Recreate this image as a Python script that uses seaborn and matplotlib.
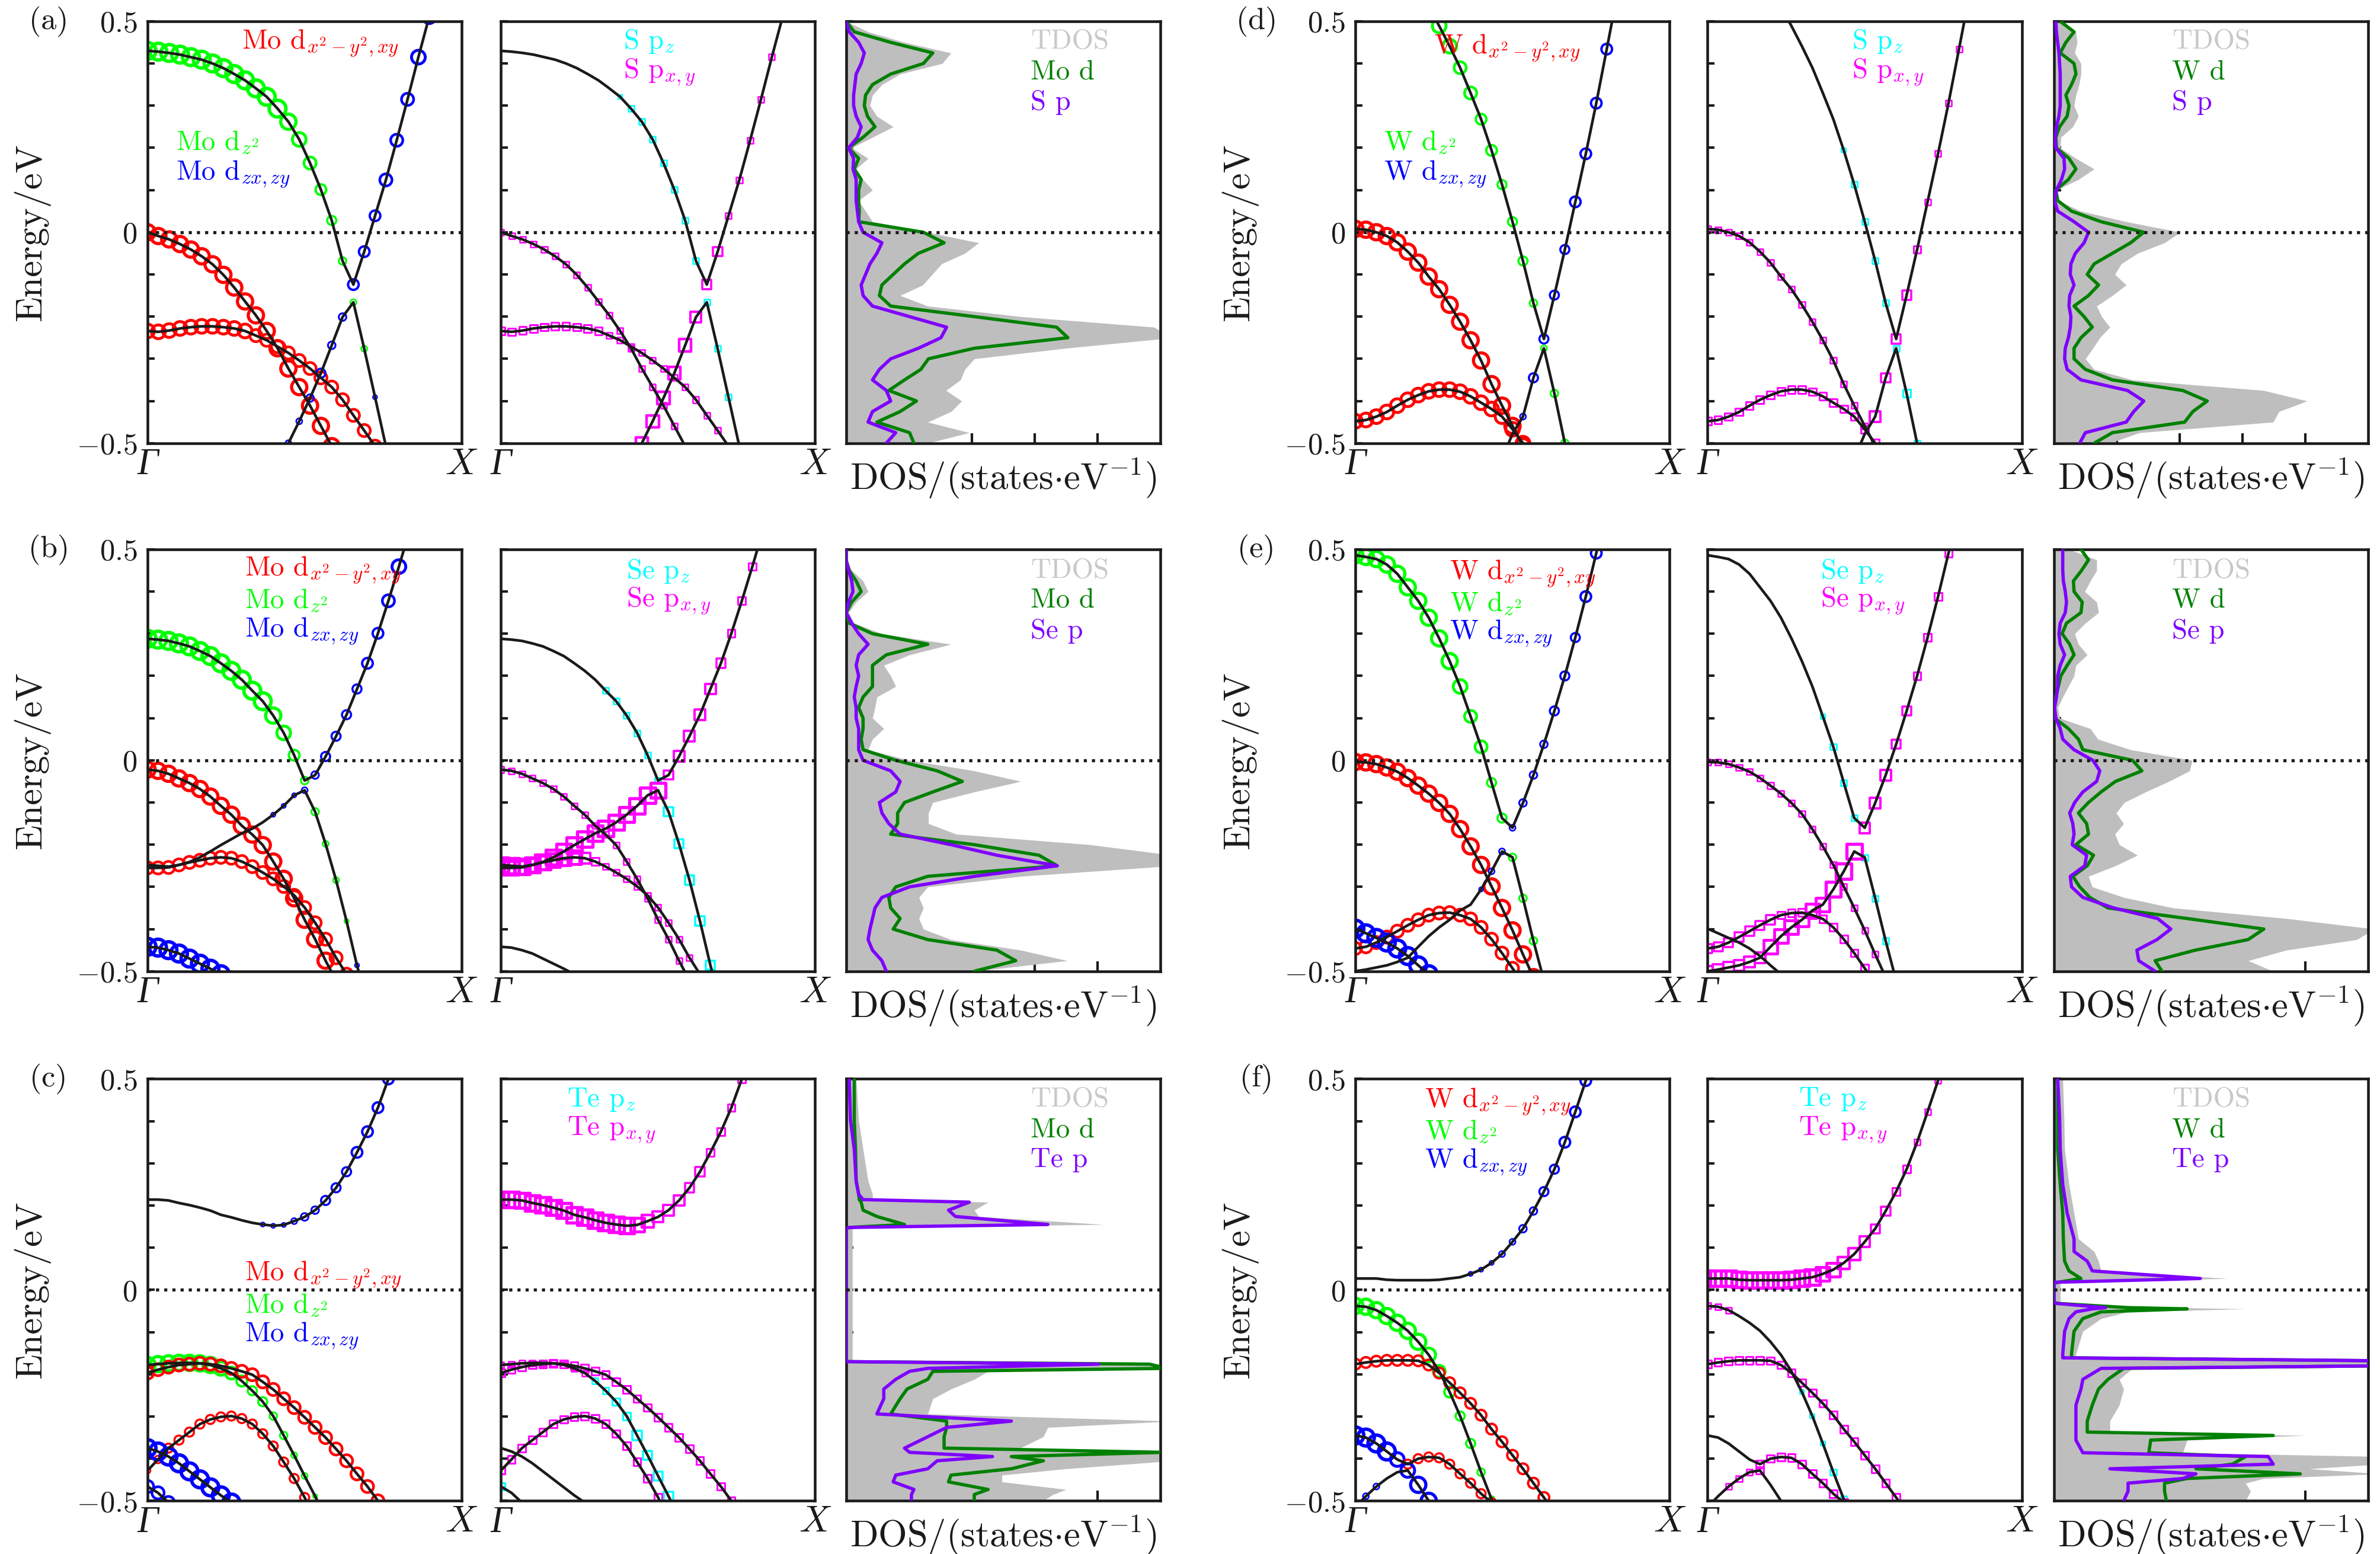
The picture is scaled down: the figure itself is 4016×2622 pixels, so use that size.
import numpy as np
import pandas as pd
import seaborn as sns
import matplotlib.pyplot as plt

nan = np.nan

# number of k steps between Gamma and X for each panel
a_nk, b_nk, c_nk, d_nk, e_nk, f_nk = 29, 30, 30, 30, 30, 30

# band energies (eV) on the k mesh
# marker codes: colour letter + weight digit per k point, '-' none, 'tok*n' repeat

# ---- (a) MoS2 ----
a_cb = [0.430, 0.428, 0.425, 0.421, 0.415, 0.409, 0.400, 0.389, 0.375, 0.360, 0.341, 0.321, 0.293, 0.262,
        0.220, 0.164, 0.101, 0.028, -0.068, -0.124, -0.046, 0.039, 0.124, 0.218, 0.315, 0.415, 0.511]
a_cb_d = "g9*13 g8 g7 g6 g5 g4 g3 b5 b5 b5 b6 b6 b6 b7 b7"
a_cb_p = "-*11 c1 c2*7 m4 m4 m2*6"
a_vb1 = [0.0, -0.009, -0.017, -0.028, -0.041, -0.057, -0.076, -0.101, -0.131, -0.164, -0.197, -0.234,
         -0.275, -0.323, -0.367, -0.411, -0.459, -0.507, -0.56]
a_vb1_d = "r8*19"
a_vb1_p = "m2*19"
a_vb2 = [-0.234, -0.236, -0.233, -0.228, -0.225, -0.223, -0.223, -0.225, -0.228, -0.234, -0.245, -0.256,
         -0.271, -0.286, -0.304, -0.323, -0.345, -0.367, -0.397, -0.434, -0.470, -0.507]
a_vb2_d = "r7*10 r6*12"
a_vb2_p = "m3*10 m2*12"
a_vb3 = [nan] * 12 + [-0.56, -0.500, -0.448, -0.393, -0.334, -0.268, -0.201, -0.166, -0.276, -0.391, -0.507]
a_vb3_d = "-*13 b2 b2 b3 b4 b3 b3 g2 g2 b1 b1"
a_vb3_p = "-*13 m6*5 m5 c2*4"

# ---- (b) MoSe2 ----
b_cb = [0.288, 0.286, 0.283, 0.277, 0.270, 0.259, 0.247, 0.230, 0.212, 0.191, 0.165, 0.140, 0.106, 0.065,
        0.012, -0.048, -0.035, 0.009, 0.057, 0.108, 0.169, 0.230, 0.301, 0.378, 0.459, 0.543]
b_cb_d = "g9*12 g8 g7 g5 g3 b3 b4*4 b5 b5 b6 b7 b7"
b_cb_p = "-*10 c2*6 m4 m5*4 m4 m3*4"
b_vb1 = [-0.022, -0.025, -0.032, -0.043, -0.054, -0.068, -0.086, -0.108, -0.129, -0.155, -0.176, -0.201,
         -0.240, -0.281, -0.327, -0.378, -0.424, -0.475, -0.522]
b_vb1_d = "r8*19"
b_vb1_p = "m2*19"
b_vb2 = [-0.255, -0.255, -0.254, -0.248, -0.242, -0.237, -0.232, -0.230, -0.232, -0.240, -0.252, -0.266,
         -0.281, -0.299, -0.320, -0.349, -0.385, -0.424, -0.468, -0.507]
b_vb2_d = "r6*20"
b_vb2_p = "m7*8 m5 m3 m2*10"
b_vb3 = [-0.248, -0.250, -0.252, -0.248, -0.241, -0.230, -0.216, -0.201, -0.187, -0.173, -0.162, -0.147,
         -0.129, -0.108, -0.083, -0.071, -0.122, -0.198, -0.284, -0.381, -0.486, -0.579]
b_vb3_d = "-*12 b1 b1 b1 b2 g3 g2 g2 g1 b1 -"
b_vb3_p = "m8*16 c4*5 -"
b_vb4 = [-0.442, -0.444, -0.450, -0.458, -0.470, -0.482, -0.494, -0.507, -0.522]
b_vb4_d = "b9*9"
b_vb4_p = "-*9"

# ---- (c) MoTe2 ----
c_cb = [0.214, 0.214, 0.212, 0.206, 0.201, 0.195, 0.188, 0.178, 0.172, 0.165, 0.159, 0.155, 0.152, 0.154,
        0.163, 0.173, 0.189, 0.212, 0.242, 0.280, 0.326, 0.375, 0.432, 0.5, 0.56]
c_cb_d = "-*11 b1*3 b2 b3 b3 b4*3 b5*5"
c_cb_p = "m8*13 m7 m6 m5*3 m4 m4 m3*5"
c_vba = [-0.178, -0.176, -0.174, -0.173, -0.173, -0.174, -0.178, -0.186, -0.197, -0.216, -0.239, -0.265,
         -0.299, -0.345, -0.392, -0.441, -0.489, -0.538]
c_vba_d = "g8*7 g7 g6 g5 g4 g4 g3 g3 g2 g2 g1 g1"
c_vba_p = "m2*9 c2 c2 c3 c3 c4*5"
c_vbb = [-0.197, -0.189, -0.183, -0.178, -0.176, -0.174, -0.176, -0.180, -0.186, -0.193, -0.201, -0.218,
         -0.236, -0.258, -0.279, -0.302, -0.326, -0.350, -0.377, -0.405, -0.436, -0.466, -0.5, -0.534]
c_vbb_d = "r6*24"
c_vbb_p = "m3*24"
c_vb3 = [-0.428, -0.402, -0.375, -0.356, -0.337, -0.318, -0.307, -0.301, -0.299, -0.305, -0.318, -0.341,
         -0.370, -0.408, -0.447, -0.492, -0.542]
c_vb3_d = "r2 r3 r4*15"
c_vb3_p = "m3*17"
c_vb4 = [-0.375, -0.383, -0.395, -0.411, -0.430, -0.449, -0.468, -0.487, -0.504, -0.523]
c_vb4_d = "b9*10"
c_vb4_p = "-*10"
c_vb5 = [-0.466, -0.481, -0.504, -0.530]
c_vb5_d = "b6*4"
c_vb5_p = "c3 - - -"

# ---- (d) WS2 ----
d_cb = [nan] * 6 + [0.585, 0.533, 0.489, 0.441, 0.390, 0.330, 0.268, 0.194, 0.113, 0.025, -0.068, -0.168,
                    -0.253, -0.149, -0.041, 0.072, 0.186, 0.306, 0.434, 0.563]
d_cb_d = "-*7 g6 g7 g7 g6 g6 g5 g5 g4 g4 g4 g3 b4 b4 b4 b5 b5 b5 b5 b5"
d_cb_p = "-*13 c1 c2*4 m4 m4 m3 m2*5"
d_vb1 = [0.008, 0.006, 0.000, -0.009, -0.024, -0.046, -0.072, -0.105, -0.135, -0.172, -0.212, -0.256,
         -0.304, -0.360, -0.411, -0.459, -0.507]
d_vb1_d = "r8*17"
d_vb1_p = "m2*17"
d_vb2 = [-0.448, -0.445, -0.437, -0.426, -0.411, -0.397, -0.386, -0.377, -0.373, -0.373, -0.378, -0.389,
         -0.404, -0.419, -0.437, -0.467, -0.5]
d_vb2_d = "r7*17"
d_vb2_p = "m3*17"
d_vb3 = [nan] * 14 + [-0.537, -0.478, -0.437, -0.345, -0.275, -0.382, -0.500, -0.596]
d_vb3_d = "-*16 b2 b4 g2 g3 g3 -"
d_vb3_p = "-*16 m5 m4 c2 c3 c2 -"

# ---- (e) WSe2 ----
e_cb = [0.486, 0.482, 0.477, 0.464, 0.442, 0.410, 0.378, 0.338, 0.289, 0.235, 0.175, 0.104, 0.032, -0.053,
        -0.137, -0.160, -0.101, -0.035, 0.038, 0.117, 0.200, 0.291, 0.388, 0.491, 0.594]
e_cb_d = "g8*10 g7 g6 g6 g4 g4 b2 b3*3 b4*3 b5*3"
e_cb_p = "-*11 c1 c2*3 m5*3 m4 m4 m3*5"
e_vb1 = [-0.004, -0.005, -0.009, -0.017, -0.027, -0.042, -0.060, -0.079, -0.101, -0.127, -0.163, -0.204,
         -0.248, -0.299, -0.350, -0.403, -0.460, -0.514]
e_vb1_d = "r8*18"
e_vb1_p = "m2*18"
e_vb2 = [-0.446, -0.442, -0.432, -0.419, -0.405, -0.391, -0.378, -0.367, -0.362, -0.361, -0.367, -0.376,
         -0.396, -0.424, -0.457, -0.493, -0.529]
e_vb2_d = "r6*17"
e_vb2_p = "m4*7 m3*10"
e_vb3 = [-0.500, -0.496, -0.491, -0.486, -0.478, -0.468, -0.442, -0.417, -0.396, -0.378, -0.356, -0.342,
         -0.306, -0.263, -0.216, -0.230, -0.327, -0.428, -0.522]
e_vb3_d = "-*12 b1 b2 b2 g3 g3 g3 g3"
e_vb3_p = "m5*6 m7*6 m8*3 c2*4"
e_vb4 = [-0.399, -0.410, -0.421, -0.432, -0.446, -0.464, -0.486, -0.507]
e_vb4_d = "b9*8"
e_vb4_p = "-*8"

# ---- (f) WTe2 ----
f_cb = [0.027, 0.027, 0.027, 0.024, 0.023, 0.023, 0.023, 0.023, 0.024, 0.027, 0.030, 0.038, 0.048, 0.064,
        0.085, 0.114, 0.145, 0.187, 0.233, 0.286, 0.350, 0.422, 0.496, 0.576]
f_cb_d = "-*11 b1*3 b2 b2 b3 b3 b4 b4 b5*4"
f_cb_p = "m8*11 m7 m7 m6 m6 m5 m4 m4 m3 m3 m2*4"
f_vb1 = [-0.038, -0.040, -0.048, -0.062, -0.078, -0.097, -0.123, -0.154, -0.193, -0.242, -0.299, -0.364,
         -0.432, -0.496, -0.561]
f_vb1_d = "g8*7 g7 g6 g5 g4 g4 g3 g2 g2"
f_vb1_p = "m2*3 -*6 c1*3 c2 c2 -"
f_vb2 = [-0.176, -0.172, -0.169, -0.167, -0.167, -0.167, -0.168, -0.178, -0.197, -0.220, -0.244, -0.269,
         -0.297, -0.330, -0.360, -0.392, -0.424, -0.458, -0.492, -0.527]
f_vb2_d = "r5*20"
f_vb2_p = "m3*20"
f_vb3 = [-0.345, -0.350, -0.364, -0.383, -0.402, -0.413, -0.400, -0.396, -0.398, -0.413, -0.436, -0.458,
         -0.483, -0.504, -0.530]
f_vb3_d = "b9*4 b7 r4*10"
f_vb3_p = "-*5 m3*10"
f_vb4 = [-0.515, -0.489, -0.466, -0.447, -0.432, -0.428, -0.462, -0.5, -0.538]
f_vb4_d = "b2*3 - - b7 b8*3"
f_vb4_p = "c2 - m2*3 m3 -*3"

# ---- densities of states (states/eV), energy grid from 0.5 down to -0.5 eV ----
dos_e = np.linspace(0.5, -0.5, 41)

a_tdos = [0, 0.35, 0.93, 1.67, 1.53, 0.86, 0.57, 0.42, 0.38, 0.49, 0.75, 0.42, 0.09, 0.35, 0.16, 0.27, 0.42,
          0.2, 0.31, 0.42, 1.3, 2.11, 1.89, 1.52, 1.37, 1.22, 0.86, 1.3, 2.78, 4.9, 5.2, 3.49, 2.04, 1.89,
          1.82, 1.59, 1.84, 1.67, 1.3, 1.96, 1.3]
a_ddos = [0, 0.13, 0.71, 1.38, 1.23, 0.71, 0.42, 0.31, 0.29, 0.34, 0.46, 0.27, 0.04, 0.2, 0.13, 0.24, 0.2,
          0.2, 0.21, 0.2, 1.23, 1.56, 1.15, 0.93, 0.75, 0.57, 0.53, 0.71, 2.04, 3.35, 3.53, 2.04, 1.31,
          1.19, 0.93, 0.68, 1.12, 0.86, 0.49, 1.01, 1.08]
a_pdos = [0, 0.05, 0.2, 0.29, 0.24, 0.16, 0.14, 0.12, 0.12, 0.16, 0.24, 0.18, 0.04, 0.12, 0.11, 0.16, 0.16,
          0.16, 0.18, 0.2, 0.27, 0.57, 0.49, 0.38, 0.31, 0.24, 0.27, 0.42, 1.01, 1.6, 1.51, 1.15, 0.71,
          0.53, 0.42, 0.64, 0.71, 0.42, 0.35, 0.79, 0.64]

b_tdos = [0, 0, 0.09, 0.27, 0.35, 0.16, 0.04, 0.13, 0.57, 1.67, 1.01, 0.6, 0.71, 0.79, 0.49, 0.46, 0.42,
          0.6, 0.42, 0.35, 1.01, 2.04, 2.78, 2.04, 1.38, 1.31, 1.31, 1.75, 3.88, 5.2, 5.2, 2.78, 1.3, 1.16,
          1.23, 1.16, 1.23, 1.67, 2.78, 3.52, 2.04]
b_ddos = [0, 0, 0.05, 0.16, 0.24, 0.09, 0, 0.05, 0.42, 1.3, 0.64, 0.42, 0.42, 0.42, 0.27, 0.2, 0.27, 0.27,
          0.24, 0.27, 0.79, 1.45, 1.85, 1.38, 0.93, 0.82, 0.82, 0.71, 2.04, 3.07, 3.36, 1.3, 0.79, 0.68,
          0.71, 0.86, 0.75, 1.3, 2.4, 2.7, 2.04]
b_pdos = [0, 0, 0.04, 0.09, 0.11, 0.04, 0, 0.09, 0.2, 0.35, 0.2, 0.16, 0.2, 0.16, 0.13, 0.16, 0.16, 0.2,
          0.2, 0.2, 0.27, 0.71, 0.86, 0.79, 0.53, 0.57, 0.68, 0.86, 1.67, 2.4, 3.36, 2.04, 1.01, 0.57, 0.46,
          0.42, 0.38, 0.35, 0.42, 0.57, 0.64]

c_dos_e = [0.5, 0.402, 0.333, 0.258, 0.227, 0.214, 0.208, 0.189, 0.174, 0.155, 0.148, 0.145,
           -0.170, -0.176, -0.186, -0.193, -0.212, -0.235, -0.258, -0.294, -0.311, -0.326, -0.348, -0.375,
           -0.385, -0.395, -0.405, -0.424, -0.439, -0.455, -0.473, -0.485, -0.5]
c_tdos = [0.16, 0.2, 0.27, 0.35, 0.42, 0.42, 2.26, 2.04, 2.11, 4.1, 0.1, 0.1,
          0.1, 5.2, 5.2, 2.26, 2.04, 1.67, 1.38, 1.3, 5.2, 3.21, 3.14, 2.77, 5.2, 5.2, 5.2, 3.5, 2.48, 2.48,
          3.5, 3.29, 3.14]
c_ddos = [0.13, 0.13, 0.15, 0.16, 0.2, 0.21, 0.24, 0.27, 0.49, 0.93, 0.05, 0,
          0, 4.83, 5.1, 1.38, 1.3, 0.97, 0.86, 0.71, 1.6, 1.6, 1.56, 1.56, 5.05, 2.63, 3.14, 2.63, 1.67,
          1.63, 2.26, 2.04, 2.04]
c_pdos = [0.05, 0.07, 0.13, 0.16, 0.2, 0.27, 1.96, 1.63, 1.74, 3.21, 0.05, 0,
          0, 4.02, 1.3, 1.01, 0.79, 0.6, 0.6, 0.49, 2.63, 1.6, 1.3, 0.93, 1.01, 2.33, 1.45, 1.3, 0.79, 0.75,
          1.08, 1.04, 1.04]

d_tdos = [0.14, 0.35, 0.37, 0.33, 0.43, 0.43, 0.40, 0.35, 0.32, 0.39, 0.30, 0.11, 0.10, 0.35, 0.64, 0.39,
          0.04, 0.06, 0.43, 1.15, 2.01, 1.76, 1.33, 1.07, 0.97, 1.15, 0.93, 0.68, 0.76, 0.89, 0.73, 0.62,
          0.50, 0.64, 1.25, 3.34, 4.03, 3.58, 3.49, 1.36, 0.89]
d_ddos = [0.10, 0.32, 0.19, 0.10, 0.32, 0.35, 0.28, 0.19, 0.24, 0.21, 0.09, 0.03, 0.04, 0.24, 0.35, 0.23,
          0.03, 0.06, 0.28, 0.75, 1.43, 1.22, 0.93, 0.64, 0.53, 0.71, 0.55, 0.32, 0.48, 0.61, 0.43, 0.32,
          0.32, 0.50, 0.93, 2.05, 2.44, 2.21, 2.08, 0.93, 0.64]
d_pdos = [0.03, 0.04, 0.06, 0.08, 0.09, 0.10, 0.10, 0.10, 0.10, 0.08, 0.04, 0.02, 0.03, 0.16, 0.17, 0.12,
          0.04, 0.01, 0.06, 0.32, 0.55, 0.48, 0.34, 0.27, 0.26, 0.32, 0.25, 0.24, 0.27, 0.26, 0.23, 0.18,
          0.17, 0.21, 0.43, 1.17, 1.43, 1.27, 1.15, 0.50, 0.41]

e_tdos = [0.24, 0.68, 0.68, 0.58, 0.49, 0.68, 0.71, 0.50, 0.33, 0.39, 0.53, 0.35, 0.32, 0.23, 0.14, 0.06,
          0.09, 0.58, 0.70, 1.22, 2.20, 2.16, 1.83, 1.46, 1.12, 0.99, 1.11, 0.97, 1.04, 1.33, 0.98, 0.55,
          0.61, 1.11, 1.90, 3.70, 5.1, 4.82, 3.70, 3.09, 3.49]
e_ddos = [0.43, 0.55, 0.44, 0.31, 0.32, 0.45, 0.43, 0.20, 0.13, 0.25, 0.32, 0.21, 0.11, 0.07, 0.03, 0.01,
          0.01, 0.23, 0.39, 0.46, 1.25, 1.40, 0.98, 0.75, 0.55, 0.39, 0.52, 0.55, 0.35, 0.63, 0.53, 0.30,
          0.41, 0.57, 0.86, 2.12, 3.34, 3.09, 2.25, 1.61, 1.72]
e_pdos = [0.14, 0.14, 0.14, 0.15, 0.18, 0.20, 0.18, 0.10, 0.08, 0.10, 0.17, 0.10, 0.06, 0.06, 0.04, 0.01,
          0.03, 0.10, 0.14, 0.32, 0.62, 0.73, 0.68, 0.46, 0.33, 0.25, 0.30, 0.32, 0.29, 0.52, 0.49, 0.26,
          0.28, 0.46, 0.95, 1.65, 1.86, 1.64, 1.32, 1.35, 1.61]

f_dos_e = [0.5, 0.409, 0.333, 0.25, 0.182, 0.121, 0.091, 0.068, 0.045, 0.027, 0.018, 0.015,
           -0.029, -0.032, -0.042, -0.045, -0.052, -0.068, -0.098, -0.152, -0.161, -0.168, -0.180, -0.186,
           -0.212, -0.235, -0.273, -0.311, -0.337, -0.345, -0.356, -0.386, -0.395, -0.413, -0.424, -0.436,
           -0.447, -0.458, -0.477, -0.5]
f_tdos = [0.14, 0.16, 0.17, 0.24, 0.32, 0.39, 0.64, 0.71, 0.75, 2.77, 0.1, 0.1,
          0.1, 0.1, 1.90, 3.05, 1.18, 0.75, 0.46, 0.35, 0.35, 5.2, 5.2, 1.25, 1.04, 1.11, 1.04, 0.89, 0.89,
          3.99, 2.12, 2.05, 5.2, 5.2, 4.06, 5.2, 3.34, 3.05, 3.13, 3.05]
f_ddos = [0.06, 0.06, 0.06, 0.10, 0.14, 0.15, 0.16, 0.17, 0.24, 0.43, 0.06, 0,
          0, 0.06, 1.18, 2.12, 0.75, 0.46, 0.32, 0.28, 0.28, 5.2, 5.2, 1.11, 0.86, 0.71, 0.61, 0.53, 0.53,
          3.49, 1.54, 1.51, 3.05, 2.84, 2.26, 3.92, 2.12, 1.76, 1.76, 1.79]
f_pdos = [0.06, 0.09, 0.10, 0.14, 0.21, 0.32, 0.32, 0.53, 0.61, 2.33, 0.01, 0,
          0, 0.03, 0.82, 0.61, 0.35, 0.24, 0.17, 0.14, 0.14, 5.2, 5.2, 0.75, 0.46, 0.43, 0.35, 0.35, 0.35,
          0.35, 0.35, 0.46, 3.41, 3.49, 0.89, 2.26, 2.05, 1.18, 1.18, 1.11]

# ---------------------------------------------------------------------------
panels = [
    dict(tag='(a)', M='Mo', X='S', nk=a_nk,
         bands=[(a_cb, a_cb_d, a_cb_p), (a_vb1, a_vb1_d, a_vb1_p), (a_vb2, a_vb2_d, a_vb2_p), (a_vb3, a_vb3_d, a_vb3_p)],
         dos=(dos_e, a_tdos, a_ddos, a_pdos)),
    dict(tag='(b)', M='Mo', X='Se', nk=b_nk,
         bands=[(b_cb, b_cb_d, b_cb_p), (b_vb1, b_vb1_d, b_vb1_p), (b_vb2, b_vb2_d, b_vb2_p), (b_vb3, b_vb3_d, b_vb3_p),
                (b_vb4, b_vb4_d, b_vb4_p)],
         dos=(dos_e, b_tdos, b_ddos, b_pdos)),
    dict(tag='(c)', M='Mo', X='Te', nk=c_nk,
         bands=[(c_cb, c_cb_d, c_cb_p), (c_vba, c_vba_d, c_vba_p), (c_vbb, c_vbb_d, c_vbb_p), (c_vb3, c_vb3_d, c_vb3_p),
                (c_vb4, c_vb4_d, c_vb4_p), (c_vb5, c_vb5_d, c_vb5_p)],
         dos=(c_dos_e, c_tdos, c_ddos, c_pdos)),
    dict(tag='(d)', M='W', X='S', nk=d_nk,
         bands=[(d_cb, d_cb_d, d_cb_p), (d_vb1, d_vb1_d, d_vb1_p), (d_vb2, d_vb2_d, d_vb2_p), (d_vb3, d_vb3_d, d_vb3_p)],
         dos=(dos_e, d_tdos, d_ddos, d_pdos)),
    dict(tag='(e)', M='W', X='Se', nk=e_nk,
         bands=[(e_cb, e_cb_d, e_cb_p), (e_vb1, e_vb1_d, e_vb1_p), (e_vb2, e_vb2_d, e_vb2_p), (e_vb3, e_vb3_d, e_vb3_p),
                (e_vb4, e_vb4_d, e_vb4_p)],
         dos=(dos_e, e_tdos, e_ddos, e_pdos)),
    dict(tag='(f)', M='W', X='Te', nk=f_nk,
         bands=[(f_cb, f_cb_d, f_cb_p), (f_vb1, f_vb1_d, f_vb1_p), (f_vb2, f_vb2_d, f_vb2_p), (f_vb3, f_vb3_d, f_vb3_p),
                (f_vb4, f_vb4_d, f_vb4_p)],
         dos=(f_dos_e, f_tdos, f_ddos, f_pdos)),
]

# label placement inside the axes (axes fraction)
label_pos = {
    '(a)': ([(0.30, 0.948), (0.09, 0.712), (0.09, 0.638)], 0.39, (0.952, 0.879), 0.587, (0.952, 0.878, 0.808)),
    '(b)': ([(0.31, 0.950), (0.31, 0.878), (0.31, 0.806)], 0.40, (0.948, 0.877), 0.587, (0.950, 0.878, 0.806)),
    '(c)': ([(0.31, 0.535), (0.31, 0.463), (0.31, 0.391)], 0.21, (0.951, 0.879), 0.587, (0.952, 0.878, 0.808)),
    '(d)': ([(0.25, 0.936), (0.09, 0.712), (0.09, 0.638)], 0.46, (0.952, 0.879), 0.376, (0.952, 0.878, 0.808)),
    '(e)': ([(0.30, 0.942), (0.30, 0.871), (0.30, 0.800)], 0.36, (0.948, 0.877), 0.376, (0.950, 0.878, 0.806)),
    '(f)': ([(0.22, 0.946), (0.22, 0.875), (0.22, 0.803)], 0.29, (0.952, 0.879), 0.376, (0.952, 0.878, 0.808)),
}

COL = {'r': '#ff0000', 'g': '#00ff00', 'b': '#0000ff', 'c': '#00ffff', 'm': '#ff00ff'}

sns.set_theme(style='ticks')
plt.rcParams.update({
    'font.family': 'serif', 'font.serif': ['cmr10'], 'mathtext.fontset': 'cm',
    'axes.unicode_minus': False, 'axes.linewidth': 1.3, 'axes.edgecolor': 'k',
    'text.color': 'k', 'axes.labelcolor': 'k', 'xtick.color': 'k', 'ytick.color': 'k',
    'axes.formatter.use_mathtext': True,
})


def expand(code):
    out = []
    for tok in code.split():
        if '*' in tok:
            t, n = tok.split('*')
            out += [t] * int(n)
        else:
            out.append(tok)
    return out


def marks(ax, k, E, code, marker):
    rows = []
    for kk, ee, t in zip(k, E, expand(code)):
        if t == '-' or np.isnan(ee):
            continue
        rows.append((kk, ee, t[0], int(t[1])))
    if not rows:
        return
    df = pd.DataFrame(rows, columns=['k', 'E', 'c', 'w'])
    for c, g in df.groupby('c'):
        w = g['w'].values
        ms = 1.4 + 0.75 * w
        sns.scatterplot(x=g['k'].values, y=g['E'].values, ax=ax, marker=marker, s=ms ** 2,
                        facecolors='none', edgecolors=COL[c], linewidth=0.5 + 0.13 * w,
                        zorder=2, legend=False)


def style_axes(ax, first):
    ax.set_ylim(-0.5, 0.5)
    ax.set_yticks(np.round(np.arange(-0.5, 0.51, 0.1), 1))
    if first:
        ax.set_yticklabels([r'$-0.5$', '', '', '', '', r'$0$', '', '', '', '', r'$0.5$'])
    else:
        ax.set_yticklabels([])
    ax.tick_params(axis='y', direction='in', length=3.5, width=1.2, left=True, right=False,
                   labelsize=14.5, pad=5)
    ax.axhline(0, color='k', ls=':', lw=1.5, zorder=5)
    for sp in ax.spines.values():
        sp.set_linewidth(1.3)
        sp.set_color('k')


def gx_labels(ax):
    ax.set_xticks([])
    ax.text(0.0, -0.012, 'Γ', transform=ax.transAxes, ha='center', va='top', fontsize=18,
            family='Liberation Serif', style='italic')
    ax.text(1.0, -0.012, r'$X$', transform=ax.transAxes, ha='center', va='top', fontsize=18)


fig = plt.figure(figsize=(16.064, 10.488), dpi=250)
lefts = [[0.062, 0.2105, 0.3555], [0.5695, 0.7175, 0.863]]
bottoms = [0.7148, 0.375, 0.0342]
W, H = 0.132, 0.2715

for n, p in enumerate(panels):
    col, row = n // 3, n % 3
    tag = p['tag']
    lp = label_pos[tag]
    k = np.arange(60) / p['nk']
    axs = [fig.add_axes([lefts[col][j], bottoms[row], W, H]) for j in range(3)]

    for j, which in enumerate(['d', 'p']):
        ax = axs[j]
        for E, dcode, pcode in p['bands']:
            E = np.array(E, dtype=float)
            kk = k[:len(E)]
            marks(ax, kk, E, dcode if which == 'd' else pcode, 'o' if which == 'd' else 's')
            ok = ~np.isnan(E)
            sns.lineplot(x=kk[ok], y=E[ok], sort=False, estimator=None, color='k', lw=1.3,
                         ax=ax, zorder=3)
        ax.set_xlim(0, 1)
        style_axes(ax, j == 0)
        gx_labels(ax)

    # orbital labels
    M, X = p['M'], p['X']
    d_txt = [(M + r' d$_{x^2-y^2,xy}$', COL['r']), (M + r' d$_{z^2}$', COL['g']),
             (M + r' d$_{zx,zy}$', COL['b'])]
    for (x, y), (t, c) in zip(lp[0], d_txt):
        axs[0].text(x, y, t, color=c, transform=axs[0].transAxes, fontsize=13.5, va='center', ha='left')
    axs[1].text(lp[1], lp[2][0], X + r' p$_z$', color=COL['c'], transform=axs[1].transAxes,
                fontsize=13.5, va='center', ha='left')
    axs[1].text(lp[1], lp[2][1], X + r' p$_{x,y}$', color=COL['m'], transform=axs[1].transAxes,
                fontsize=13.5, va='center', ha='left')

    # DOS panel
    ax = axs[2]
    dE, T, D, P = p['dos']
    dE = np.array(dE, dtype=float)
    ax.fill_betweenx(dE, 0, T, color='#bebebe', lw=0, zorder=1)
    sns.lineplot(x=D, y=dE, sort=False, estimator=None, orient='y', color='#008000', lw=1.6, ax=ax, zorder=3)
    sns.lineplot(x=P, y=dE, sort=False, estimator=None, orient='y', color='#7f00ff', lw=1.6, ax=ax, zorder=4)
    ax.set_xlim(0, 5)
    style_axes(ax, False)
    ax.set_xticks([1, 2, 3, 4])
    ax.set_xticklabels([])
    ax.tick_params(axis='x', direction='in', length=5, width=1.2, bottom=True, top=False)
    ax.set_xlabel(r'DOS/(states$\cdot$eV$^{-1}$)', fontsize=18, labelpad=3)
    for (t, c), y in zip([('TDOS', '#c8c8c8'), (M + ' d', '#008000'), (X + ' p', '#7f00ff')], lp[4]):
        ax.text(lp[3], y, t, color=c, transform=ax.transAxes, fontsize=13.5, va='center', ha='left')

    axs[0].set_ylabel('Energy/eV', fontsize=18)
    axs[0].yaxis.set_label_coords(-0.31, 0.5)
    fig.text(lefts[col][0] - 0.33 * W + 0.002, bottoms[row] + H, tag, fontsize=15, ha='center', va='center')

fig.savefig('out.png', dpi=250)
